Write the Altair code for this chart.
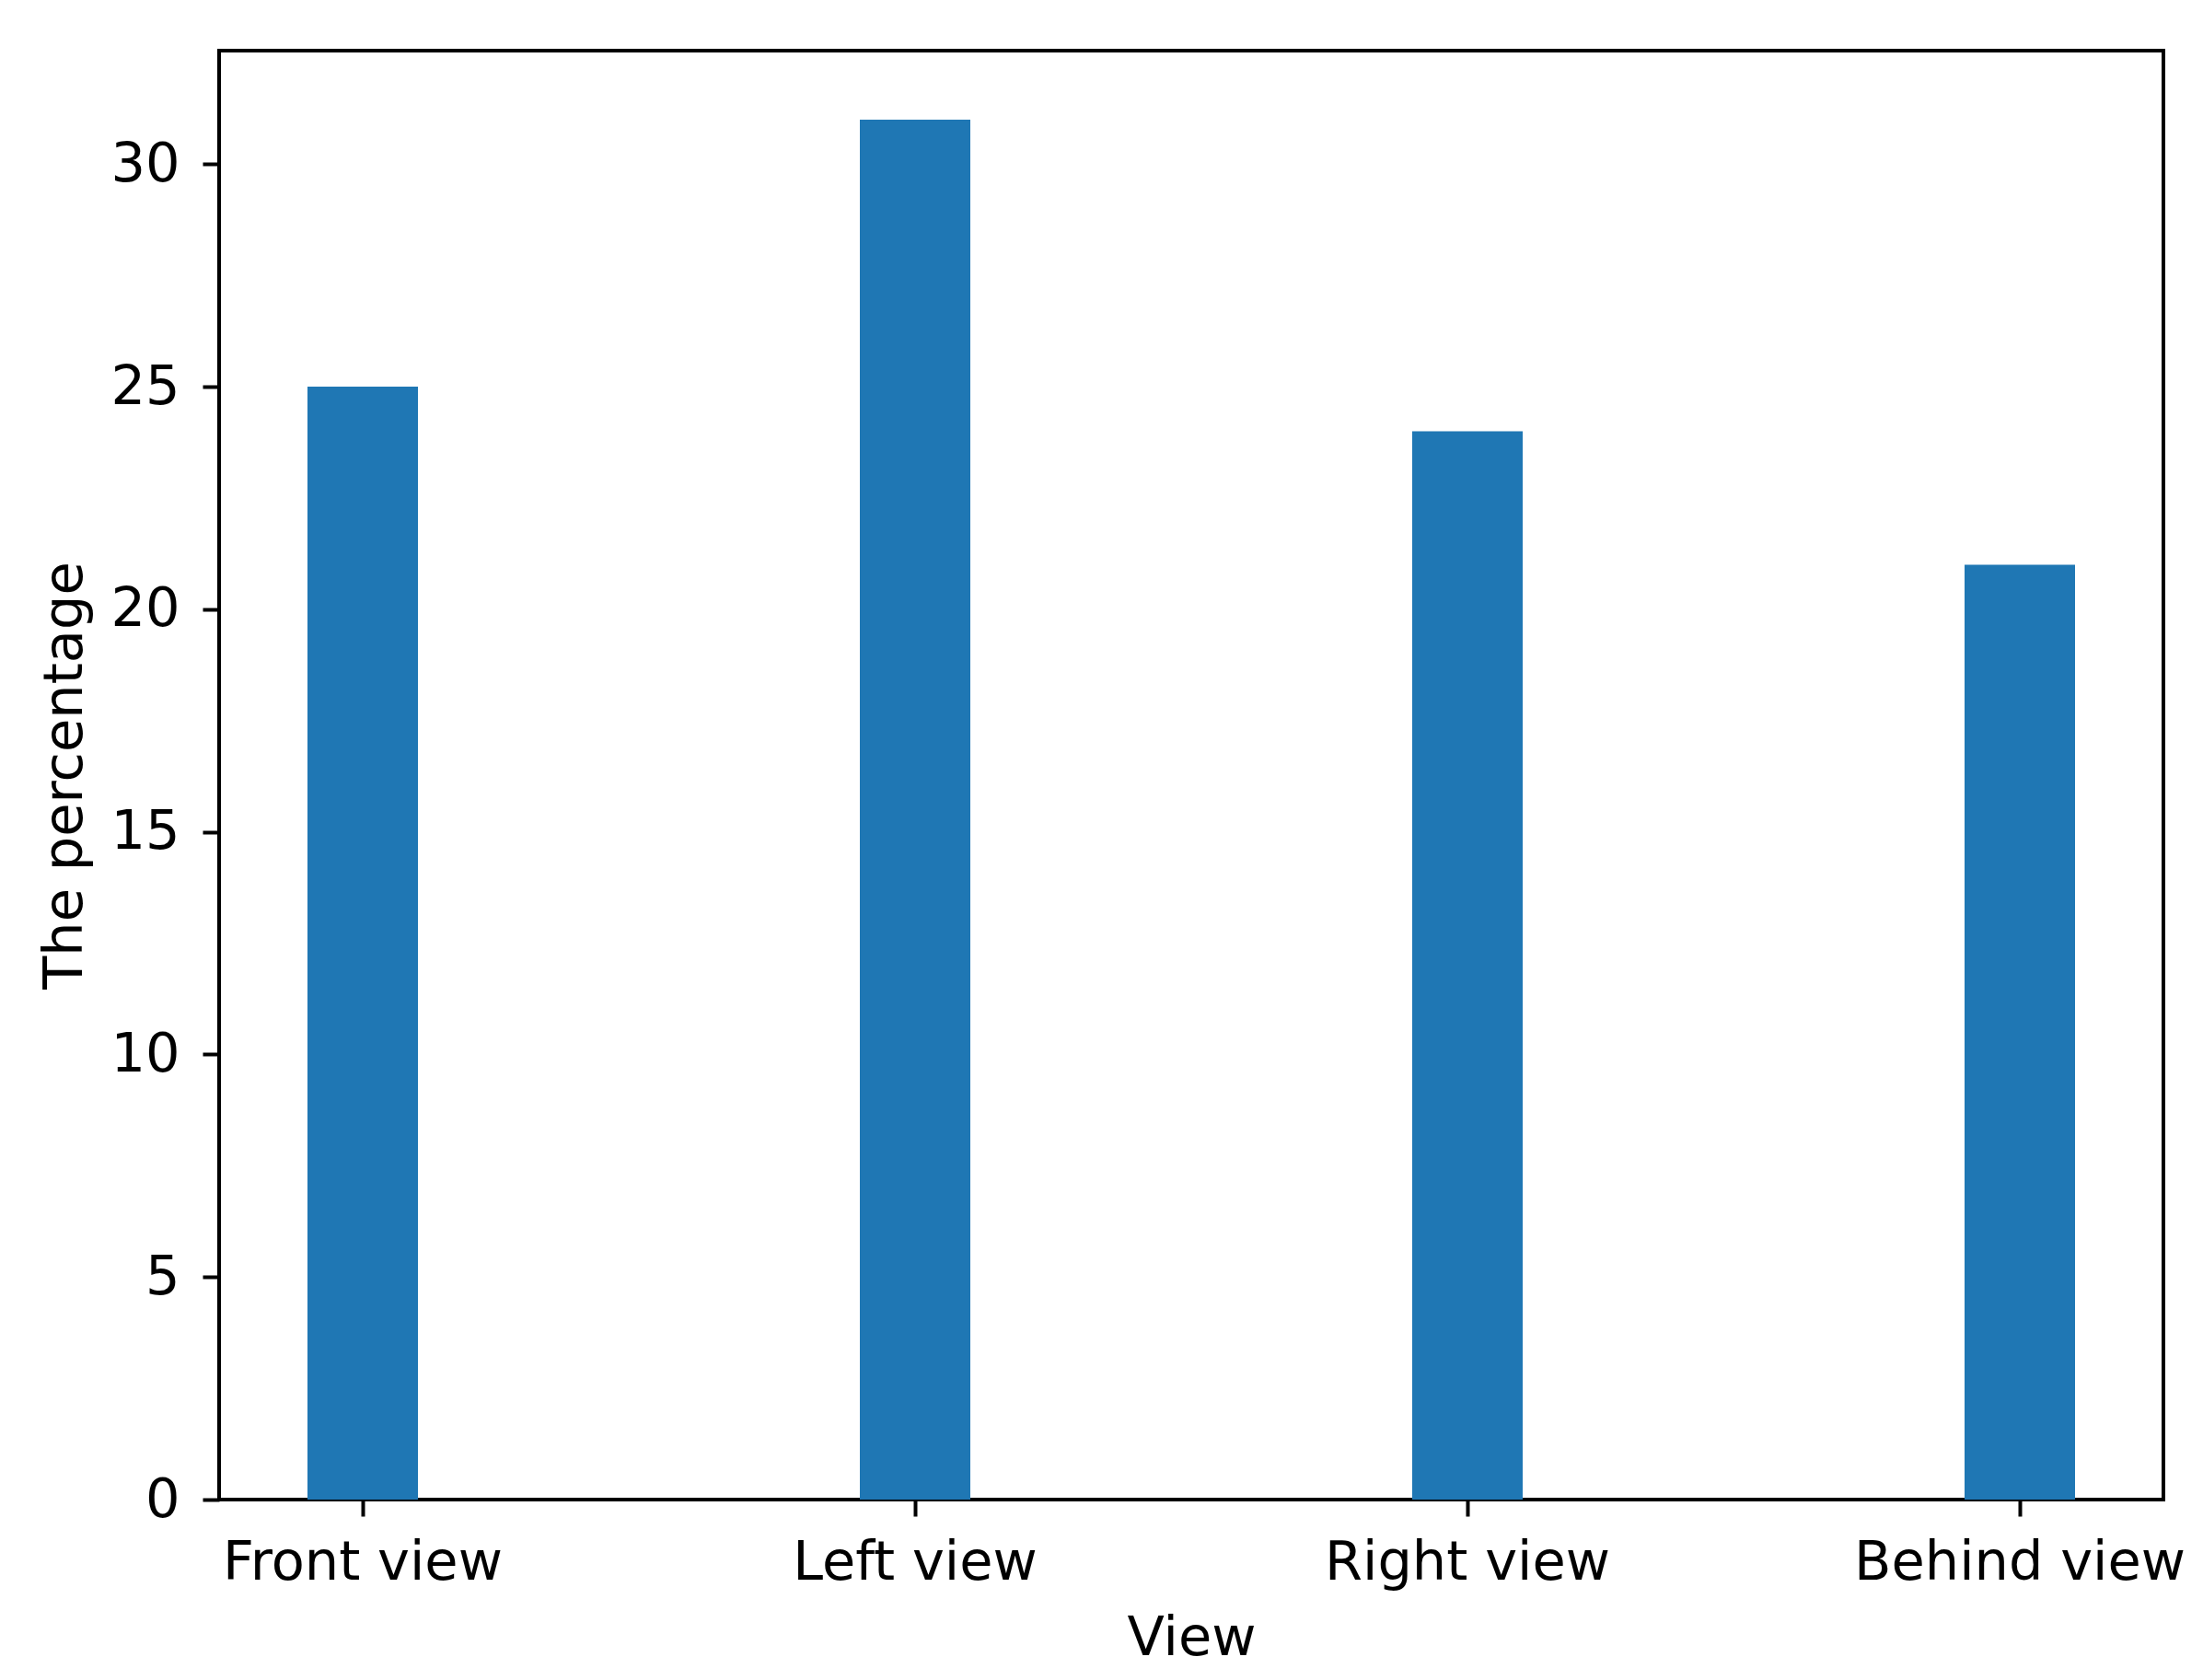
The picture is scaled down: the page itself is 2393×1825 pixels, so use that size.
import altair as alt
import pandas as pd

views = ["Front view", "Left view", "Right view", "Behind view"]
percentages = [25, 31, 24, 21]

df = pd.DataFrame({"View": views, "Pct": percentages})

FONT = "DejaVu Sans"
FS = 59

chart = alt.Chart(df).mark_bar(color="#1f77b4").encode(
    x=alt.X(
        "View:N",
        sort=views,
        scale=alt.Scale(paddingInner=0.8, paddingOuter=0.16),
        axis=alt.Axis(
            title="View",
            labelAngle=0,
            labelLimit=1000,
            labelFont=FONT, labelFontSize=FS, labelColor="black",
            labelBaseline="alphabetic", labelPadding=68,
            tickSize=18, tickWidth=4, tickColor="black",
            domain=False,
            titleFont=FONT, titleFontSize=FS, titleFontWeight="normal", titleColor="black",
            titleX=1056, titleY=168, titleBaseline="alphabetic", titleAlign="center",
        ),
    ),
    y=alt.Y(
        "Pct:Q",
        scale=alt.Scale(domain=[0, 32.55], nice=False, zero=True),
        axis=alt.Axis(
            title="The percentage",
            values=[0, 5, 10, 15, 20, 25, 30],
            grid=False,
            labelFont=FONT, labelFontSize=FS, labelColor="black",
            labelPadding=25,
            tickSize=18, tickWidth=4, tickColor="black",
            domain=False,
            titleFont=FONT, titleFontSize=FS, titleFontWeight="normal", titleColor="black",
            titleX=-150, titleY=787, titleAngle=270, titleBaseline="alphabetic", titleAlign="center",
        ),
    ),
).properties(
    width=2112,
    height=1574,
    autosize=alt.AutoSizeParams(type="none"),
    padding={"left": 230, "top": 47, "right": 35, "bottom": 192},
).configure(
    background="white"
).configure_view(
    stroke="black", strokeWidth=4
)

chart.save("out.html", embed_options={"renderer": "svg", "actions": False})
